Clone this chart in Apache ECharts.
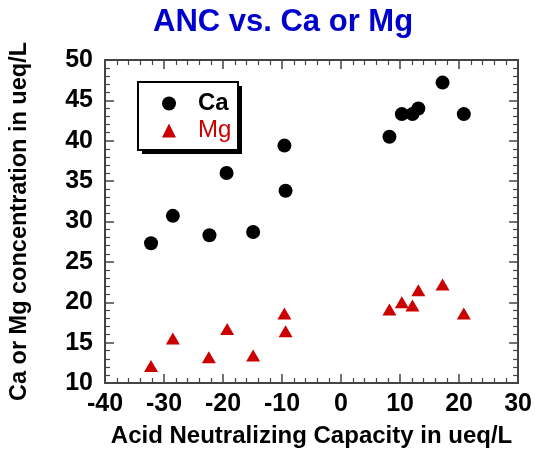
<!DOCTYPE html>
<html>
<head>
<meta charset="utf-8">
<script src="https://cdn.jsdelivr.net/npm/echarts@6/dist/echarts.min.js"></script>
<style>
  html, body { margin: 0; padding: 0; background: #fff; }
  #chart { width: 535px; height: 461px; }
</style>
</head>
<body>
<div id="chart"></div>
<script>
// Acid neutralizing capacity (ueq/L) paired with the measured cation concentration (ueq/L)
const caPoints = [
  [-32.2, 27.3], [-28.5, 30.7], [-22.3, 28.3], [-19.4, 36.0], [-14.9, 28.7],
  [-9.6, 39.4], [-9.4, 33.8], [8.2, 40.5], [10.3, 43.3], [12.1, 43.3],
  [13.1, 44.0], [17.2, 47.2], [20.8, 43.3]
];
const mgPoints = [
  [-32.2, 12.1], [-28.5, 15.5], [-22.4, 13.2], [-19.3, 16.7], [-14.9, 13.4],
  [-9.6, 18.6], [-9.4, 16.4], [8.2, 19.1], [10.3, 20.0], [12.1, 19.6],
  [13.1, 21.5], [17.2, 22.2], [20.8, 18.6]
];
const xRange = { min: -40, max: 30, interval: 10 };
const yRange = { min: 10, max: 50, interval: 5 };

const FONT = '"Liberation Sans", Arial, Helvetica, sans-serif';
const axisInk = '#444';

function frameAxis(range, position, showLabels, labelMargin) {
  return {
    type: 'value',
    position: position,
    min: range.min,
    max: range.max,
    interval: range.interval,
    splitNumber: 5,
    axisLine: { show: true, onZero: false, lineStyle: { color: axisInk, width: 2 } },
    axisTick: { show: true, inside: true, length: 9, lineStyle: { color: axisInk, width: 1.5 } },
    minorTick: { show: true, splitNumber: 5, length: 5, lineStyle: { color: axisInk, width: 1.2 } },
    splitLine: { show: false },
    axisLabel: {
      show: showLabels,
      color: '#000',
      fontFamily: FONT,
      fontWeight: 'bold',
      fontSize: 25,
      margin: labelMargin
    }
  };
}

const xBottom = Object.assign(frameAxis(xRange, 'bottom', true, 9), {
  name: 'Acid Neutralizing Capacity in ueq/L',
  nameLocation: 'middle',
  nameGap: 41,
  nameTextStyle: { color: '#000', fontFamily: FONT, fontWeight: 'bold', fontSize: 24 }
});
const xTop = frameAxis(xRange, 'top', false, 9);
const yLeft = Object.assign(frameAxis(yRange, 'left', true, 12), {
  name: 'Ca or Mg concentration in ueq/L',
  nameLocation: 'middle',
  nameGap: 73,
  nameTextStyle: { color: '#000', fontFamily: FONT, fontWeight: 'bold', fontSize: 23.5 }
});
const yRight = frameAxis(yRange, 'right', false, 12);

// Legend frame: white panel with a solid drop shadow
const legendBox = { x: 138, y: 82, w: 100, h: 68, shadow: 4 };

const chart = echarts.init(document.getElementById('chart'), null, { renderer: 'canvas' });
chart.setOption({
  backgroundColor: '#fff',
  animation: false,
  title: {
    text: 'ANC vs. Ca or Mg',
    left: 148,
    top: 2,
    textStyle: { color: '#0000cc', fontFamily: FONT, fontWeight: 'bold', fontSize: 31 }
  },
  graphic: [
    {
      type: 'rect',
      z: 10,
      shape: { x: legendBox.x + legendBox.shadow, y: legendBox.y + legendBox.shadow, width: legendBox.w, height: legendBox.h },
      style: { fill: '#000' }
    },
    {
      type: 'rect',
      z: 11,
      shape: { x: legendBox.x, y: legendBox.y, width: legendBox.w, height: legendBox.h },
      style: { fill: '#fff', stroke: '#000', lineWidth: 2 }
    }
  ],
  legend: {
    orient: 'vertical',
    left: 162,
    top: 90,
    padding: 0,
    z: 20,
    itemWidth: 14,
    itemHeight: 14,
    itemGap: 0,
    selectedMode: false,
    textStyle: { fontFamily: FONT, fontSize: 24, lineHeight: 27, padding: [0, 0, 0, 17] },
    data: [
      { name: 'Ca', icon: 'circle', textStyle: { color: '#000', fontWeight: 'bold' } },
      { name: 'Mg', icon: 'triangle', textStyle: { color: '#cc0000', fontWeight: 'normal' } }
    ]
  },
  grid: { left: 102, top: 60, right: 13, bottom: 78 },
  xAxis: [xBottom, xTop],
  yAxis: [yLeft, yRight],
  series: [
    {
      name: 'Ca',
      type: 'scatter',
      xAxisIndex: 0,
      yAxisIndex: 0,
      symbol: 'circle',
      symbolSize: 14,
      itemStyle: { color: '#000', opacity: 1 },
      data: caPoints
    },
    {
      name: 'Mg',
      type: 'scatter',
      xAxisIndex: 0,
      yAxisIndex: 0,
      symbol: 'triangle',
      symbolSize: [14, 12],
      itemStyle: { color: '#cc0000', opacity: 1 },
      data: mgPoints
    }
  ]
});
</script>
</body>
</html>
